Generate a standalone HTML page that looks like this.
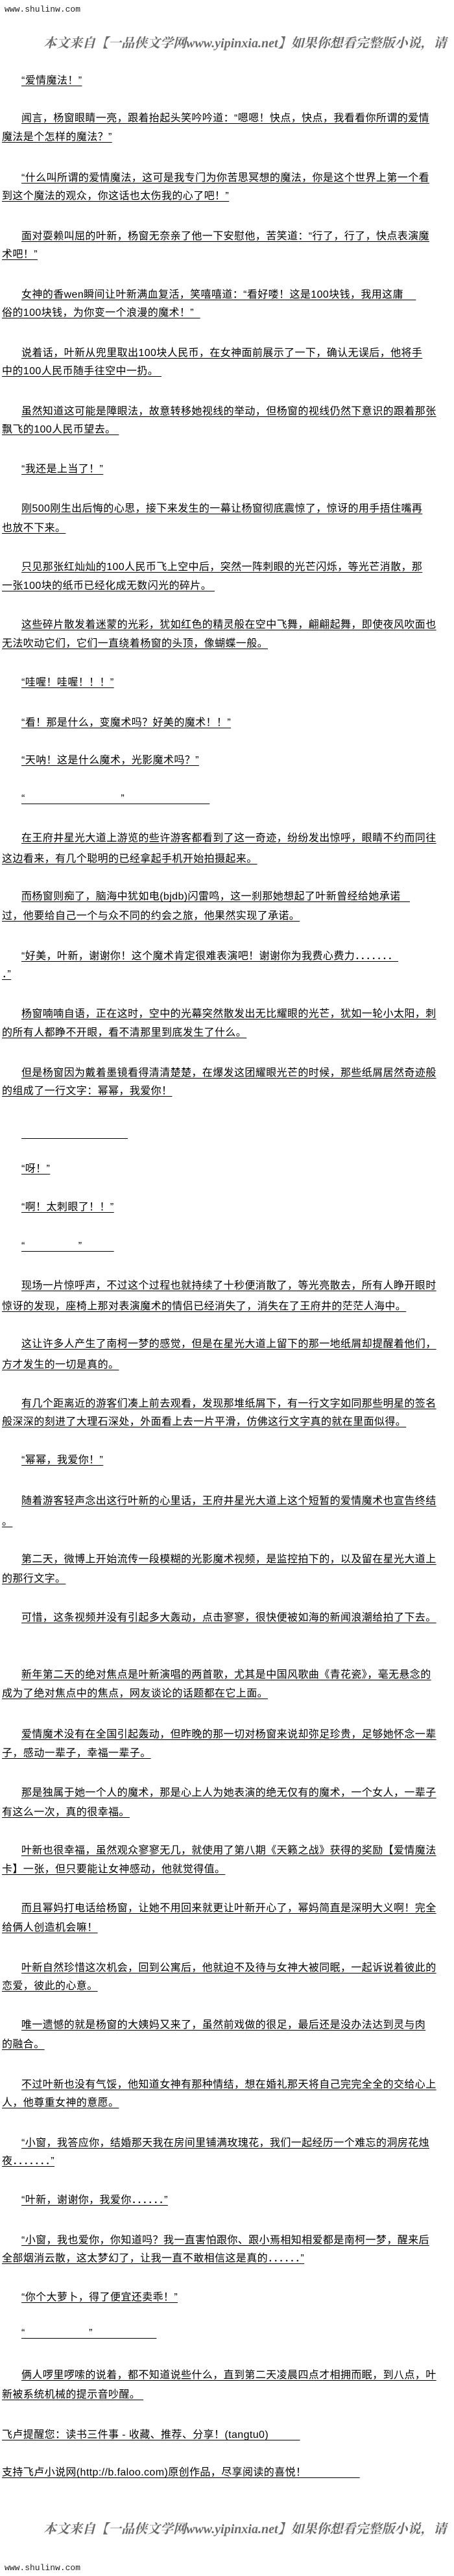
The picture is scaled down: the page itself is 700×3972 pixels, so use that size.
<!DOCTYPE html>
<html><head><meta charset="utf-8">
<style>
html,body{margin:0;padding:0;background:#fff;}
body{width:700px;height:3972px;position:relative;overflow:hidden;
font-family:"Liberation Sans","Noto Sans CJK SC",sans-serif;color:#000;}
.l{position:absolute;left:33px;height:20px;line-height:20px;font-size:16px;letter-spacing:0.4px;white-space:pre;text-decoration:underline;text-underline-offset:3px;}
.c{position:absolute;left:3px;height:20px;line-height:20px;font-size:16px;letter-spacing:0.4px;white-space:pre;text-decoration:underline;text-underline-offset:3px;}
.site{position:absolute;left:7px;font-family:"Liberation Mono",monospace;font-size:13px;line-height:16px;color:#222;}
.logo{position:absolute;left:67px;font-family:"Liberation Serif","Noto Serif CJK SC",serif;font-size:20px;font-weight:bold;font-style:italic;color:#6a6a6a;white-space:nowrap;line-height:26px;}
</style></head><body>
<div class="site" style="top:7px">www.shulinw.com</div>
<div class="logo" style="top:54px">本文来自【一品侠文学网www.yipinxia.net】如果你想看完整版小说，请</div>

<div class="l" style="top:115px">“爱情魔法！”</div>
<div class="l" style="top:173px">闻言，杨窗眼睛一亮，跟着抬起头笑吟吟道：“嗯嗯！快点，快点，我看看你所谓的爱情</div>
<div class="c" style="top:202px">魔法是个怎样的魔法？”</div>
<div class="l" style="top:265px">“什么叫所谓的爱情魔法，这可是我专门为你苦思冥想的魔法，你是这个世界上第一个看</div>
<div class="c" style="top:293px">到这个魔法的观众，你这话也太伤我的心了吧！”</div>
<div class="l" style="top:355px">面对耍赖叫屈的叶新，杨窗无奈亲了他一下安慰他，苦笑道：“行了，行了，快点表演魔</div>
<div class="c" style="top:383px">术吧！”</div>
<div class="l" style="top:445px">女神的香wen瞬间让叶新满血复活，笑嘻嘻道：“看好喽！这是100块钱，我用这庸    </div>
<div class="c" style="top:473px">俗的100块钱，为你变一个浪漫的魔术！”  </div>
<div class="l" style="top:535px">说着话，叶新从兜里取出100块人民币，在女神面前展示了一下，确认无误后，他将手</div>
<div class="c" style="top:563px">中的100人民币随手往空中一扔。 </div>
<div class="l" style="top:625px">虽然知道这可能是障眼法，故意转移她视线的举动，但杨窗的视线仍然下意识的跟着那张</div>
<div class="c" style="top:653px">飘飞的100人民币望去。 </div>
<div class="l" style="top:714px">“我还是上当了！”</div>
<div class="l" style="top:775px">刚500刚生出后悔的心思，接下来发生的一幕让杨窗彻底震惊了，惊讶的用手捂住嘴再</div>
<div class="c" style="top:805px">也放不下来。</div>
<div class="l" style="top:865px">只见那张红灿灿的100人民币飞上空中后，突然一阵刺眼的光芒闪烁，等光芒消散，那</div>
<div class="c" style="top:894px">一张100块的纸币已经化成无数闪光的碎片。 </div>
<div class="l" style="top:954px">这些碎片散发着迷蒙的光彩，犹如红色的精灵般在空中飞舞，翩翩起舞，即使夜风吹面也</div>
<div class="c" style="top:983px">无法吹动它们，它们一直绕着杨窗的头顶，像蝴蝶一般。</div>
<div class="l" style="top:1043px">“哇喔！哇喔！！！”</div>
<div class="l" style="top:1105px">“看！那是什么，变魔术吗？好美的魔术！！”</div>
<div class="l" style="top:1163px">“天呐！这是什么魔术，光影魔术吗？”</div>
<div class="l" style="top:1222px">“　　　　　　　　　”　　　　　　　　</div>
<div class="l" style="top:1283px">在王府井星光大道上游览的些许游客都看到了这一奇迹，纷纷发出惊呼，眼睛不约而同往</div>
<div class="c" style="top:1315px">这边看来，有几个聪明的已经拿起手机开始拍摄起来。</div>
<div class="l" style="top:1373px">而杨窗则痴了，脑海中犹如电(bjdb)闪雷鸣，这一刹那她想起了叶新曾经给她承诺   </div>
<div class="c" style="top:1403px">过，他要给自己一个与众不同的约会之旅，他果然实现了承诺。</div>
<div class="l" style="top:1465px">“好美，叶新，谢谢你！这个魔术肯定很难表演吧！谢谢你为我费心费力．．．．．．．</div>
<div class="c" style="top:1493px">．”</div>
<div class="l" style="top:1554px">杨窗喃喃自语，正在这时，空中的光幕突然散发出无比耀眼的光芒，犹如一轮小太阳，刺</div>
<div class="c" style="top:1583px">的所有人都睁不开眼，看不清那里到底发生了什么。</div>
<div class="l" style="top:1645px">但是杨窗因为戴着墨镜看得清清楚楚，在爆发这团耀眼光芒的时候，那些纸屑居然奇迹般</div>
<div class="c" style="top:1673px">的组成了一行文字：幂幂，我爱你！</div>
<div class="l" style="top:1738px">　　　　　　　　　　</div>
<div class="l" style="top:1793px">“呀！”</div>
<div class="l" style="top:1852px">“啊！太刺眼了！！”</div>
<div class="l" style="top:1912px">“　　　　　”　　　</div>
<div class="l" style="top:1973px">现场一片惊呼声，不过这个过程也就持续了十秒便消散了，等光亮散去，所有人睁开眼时</div>
<div class="c" style="top:2005px">惊讶的发现，座椅上那对表演魔术的情侣已经消失了，消失在了王府井的茫茫人海中。</div>
<div class="l" style="top:2063px">这让许多人产生了南柯一梦的感觉，但是在星光大道上留下的那一地纸屑却提醒着他们，</div>
<div class="c" style="top:2095px">方才发生的一切是真的。</div>
<div class="l" style="top:2155px">有几个距离近的游客们凑上前去观看，发现那堆纸屑下，有一行文字如同那些明星的签名</div>
<div class="c" style="top:2183px">般深深的刻进了大理石深处，外面看上去一片平滑，仿佛这行文字真的就在里面似得。</div>
<div class="l" style="top:2242px">“幂幂，我爱你！”</div>
<div class="l" style="top:2305px">随着游客轻声念出这行叶新的心里话，王府井星光大道上这个短暂的爱情魔术也宣告终结</div>
<div class="c" style="top:2337px">。</div>
<div class="l" style="top:2395px">第二天，微博上开始流传一段模糊的光影魔术视频，是监控拍下的，以及留在星光大道上</div>
<div class="c" style="top:2425px">的那行文字。</div>
<div class="l" style="top:2485px">可惜，这条视频并没有引起多大轰动，点击寥寥，很快便被如海的新闻浪潮给拍了下去。</div>
<div class="l" style="top:2573px">新年第二天的绝对焦点是叶新演唱的两首歌，尤其是中国风歌曲《青花瓷》，毫无悬念的</div>
<div class="c" style="top:2602px">成为了绝对焦点中的焦点，网友谈论的话题都在它上面。</div>
<div class="l" style="top:2665px">爱情魔术没有在全国引起轰动，但昨晚的那一切对杨窗来说却弥足珍贵，足够她怀念一辈</div>
<div class="c" style="top:2694px">子，感动一辈子，幸福一辈子。</div>
<div class="l" style="top:2755px">那是独属于她一个人的魔术，那是心上人为她表演的绝无仅有的魔术，一个女人，一辈子</div>
<div class="c" style="top:2785px">有这么一次，真的很幸福。</div>
<div class="l" style="top:2844px">叶新也很幸福，虽然观众寥寥无几，就使用了第八期《天籁之战》获得的奖励【爱情魔法</div>
<div class="c" style="top:2873px">卡】一张，但只要能让女神感动，他就觉得值。</div>
<div class="l" style="top:2933px">而且幂妈打电话给杨窗，让她不用回来就更让叶新开心了，幂妈简直是深明大义啊！完全</div>
<div class="c" style="top:2963px">给俩人创造机会嘛！</div>
<div class="l" style="top:3025px">叶新自然珍惜这次机会，回到公寓后，他就迫不及待与女神大被同眠，一起诉说着彼此的</div>
<div class="c" style="top:3053px">恋爱，彼此的心意。</div>
<div class="l" style="top:3113px">唯一遗憾的就是杨窗的大姨妈又来了，虽然前戏做的很足，最后还是没办法达到灵与肉</div>
<div class="c" style="top:3143px">的融合。</div>
<div class="l" style="top:3205px">不过叶新也没有气馁，他知道女神有那种情结，想在婚礼那天将自己完完全全的交给心上</div>
<div class="c" style="top:3233px">人，他尊重女神的意愿。</div>
<div class="l" style="top:3295px">“小窗，我答应你，结婚那天我在房间里铺满玫瑰花，我们一起经历一个难忘的洞房花烛</div>
<div class="c" style="top:3323px">夜．．．．．．．”</div>
<div class="l" style="top:3383px">“叶新，谢谢你，我爱你．．．．．．”</div>
<div class="l" style="top:3445px">“小窗，我也爱你，你知道吗？我一直害怕跟你、跟小焉相知相爱都是南柯一梦，醒来后</div>
<div class="c" style="top:3473px">全部烟消云散，这太梦幻了，让我一直不敢相信这是真的．．．．．．”</div>
<div class="l" style="top:3533px">“你个大萝卜，得了便宜还卖乖！”</div>
<div class="l" style="top:3588px">“　　　　　　”　　　　　　</div>
<div class="l" style="top:3653px">俩人啰里啰嗦的说着，都不知道说些什么，直到第二天凌晨四点才相拥而眠，到八点，叶</div>
<div class="c" style="top:3683px">新被系统机械的提示音吵醒。 </div>
<div class="c" style="top:3745px">飞卢提醒您：读书三件事 - 收藏、推荐、分享！(tangtu0)          </div>
<div class="c" style="top:3803px">支持飞卢小说网(http://b.faloo.com)原创作品，尽享阅读的喜悦！                 </div>

<div class="logo" style="top:3887px">本文来自【一品侠文学网www.yipinxia.net】如果你想看完整版小说，请</div>
<div class="site" style="top:3952px">www.shulinw.com</div>
</body></html>
